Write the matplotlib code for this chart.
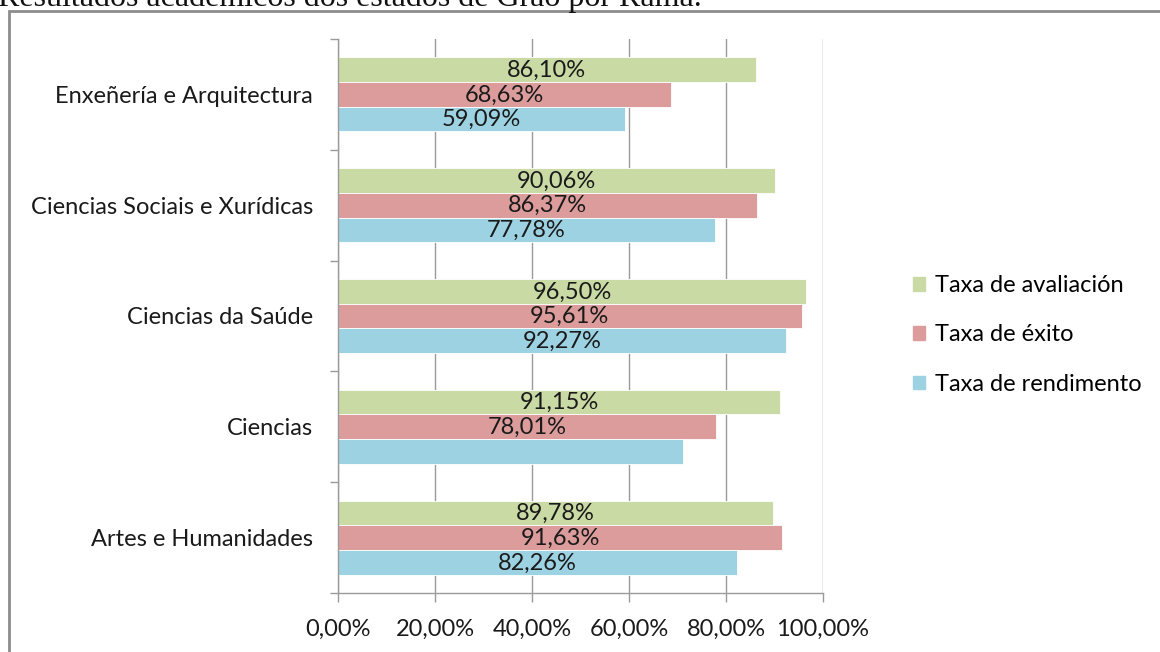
import matplotlib.pyplot as plt
import numpy as np
from matplotlib.patches import Rectangle
from matplotlib.ticker import FixedLocator, FuncFormatter

plt.rcParams['font.family'] = ['Lato', 'DejaVu Sans']

# datos do gráfico (de arriba a abaixo)
ramas = ['Enxeñería e Arquitectura', 'Ciencias Sociais e Xurídicas',
         'Ciencias da Saúde', 'Ciencias', 'Artes e Humanidades']
taxa_avaliacion = [86.10, 90.06, 96.50, 91.15, 89.78]
taxa_exito = [68.63, 86.37, 95.61, 78.01, 91.63]
taxa_rendimento = [59.09, 77.78, 92.27, 71.07, 82.26]
# a barra de rendimento de Ciencias non leva etiqueta no orixinal
mostrar_rendimento = [True, True, True, False, True]

series = [
    ('Taxa de avaliación', taxa_avaliacion, '#c9daa5'),
    ('Taxa de éxito', taxa_exito, '#dd9c9c'),
    ('Taxa de rendimento', taxa_rendimento, '#9dd2e2'),
]
grid_col = '#9a9a9a'
fs = 17

fig = plt.figure(figsize=(11.6, 6.52), dpi=100)
ax = fig.add_axes([338 / 1160, 1 - 593 / 652, 485 / 1160, 554 / 652])

n = len(ramas)
y = np.arange(n)[::-1].astype(float)
h = 0.223

for i, (nome, vals, col) in enumerate(series):
    pos = y + h * (1 - i)
    bars = ax.barh(pos, vals, height=h, color=col, edgecolor='white',
                   linewidth=0.6, label=nome, zorder=2)
    for j, (b, v) in enumerate(zip(bars, vals)):
        if i == 2 and not mostrar_rendimento[j]:
            continue
        ax.text(v / 2, b.get_y() + b.get_height() / 2 - 0.005,
                f'{v:.2f}%'.replace('.', ','), ha='center', va='center',
                fontsize=fs, color='#1a1a1a', zorder=3)

ax.set_xlim(0, 100)
ax.set_ylim(-0.5, n - 0.5)
ax.set_xticks(np.arange(0, 101, 20))
ax.xaxis.set_major_formatter(FuncFormatter(lambda v, p: f'{v:.2f}%'.replace('.', ',')))
ax.set_yticks(y)
ax.set_yticklabels(ramas)
ax.yaxis.set_minor_locator(FixedLocator(np.arange(-0.5, n, 1.0)))

ax.grid(axis='x', color=grid_col, linewidth=1, zorder=0)
ax.set_axisbelow(True)
for s in ['top', 'right']:
    ax.spines[s].set_visible(False)
for s in ['left', 'bottom']:
    ax.spines[s].set_color(grid_col)
    ax.spines[s].set_linewidth(1)

ax.tick_params(axis='y', which='major', length=0, pad=18, labelsize=fs, labelcolor='#1a1a1a')
ax.tick_params(axis='y', which='minor', length=6, width=1, color=grid_col, direction='out')
ax.tick_params(axis='x', which='major', length=6.5, width=1, color=grid_col,
               pad=12, labelsize=fs, labelcolor='#1a1a1a')

handles = [Rectangle((0, 0), 1, 1, color=c) for _, _, c in series]
fig.legend(handles, [s[0] for s in series], loc='center left',
           bbox_to_anchor=(904 / 1160, 1 - 335 / 652), frameon=False,
           fontsize=fs, handlelength=0.5, handleheight=0.5,
           handletextpad=0.4, labelspacing=1.2, borderaxespad=0)

# marco do gráfico e título recortado
fig.patches.append(Rectangle((9 / 1160, -0.05), 1.2, 1 - 11 / 652 + 0.05,
                             transform=fig.transFigure, fill=False,
                             edgecolor='#8c8c8c', linewidth=2))
fig.text(-2 / 1160, 1 - 6 / 652, 'Resultados académicos dos estados de Grao por Rama.',
         family=['Liberation Serif', 'DejaVu Serif'], fontsize=23, va='baseline',
         ha='left', color='#111111')

fig.savefig('out.png', dpi=100)
